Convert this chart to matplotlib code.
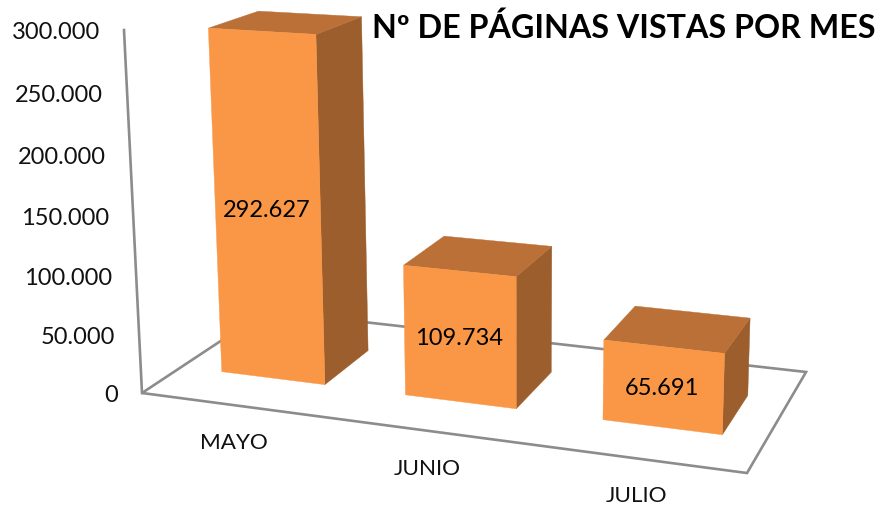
import numpy as np
import matplotlib
matplotlib.use("Agg")
import matplotlib.pyplot as plt
from matplotlib.patches import Polygon

# ---- data ----
months = ["MAYO", "JUNIO", "JULIO"]
page_views = [292627, 109734, 65691]
bar_labels = ["292.627", "109.734", "65.691"]
axis_ticks = [0, 50000, 100000, 150000, 200000, 250000, 300000]
axis_tick_labels = ["0", "50.000", "100.000", "150.000", "200.000", "250.000", "300.000"]
title = "Nº DE PÁGINAS VISTAS POR MES"

# ---- style / camera (floor homography + vertical vanishing point) ----
FRONT, TOP, SIDE = "#F99746", "#BA7036", "#9C5E2C"
AXIS = "#8C8C8C"
plt.rcParams["font.family"] = ["Lato", "DejaVu Sans"]

# homography coefficients of the floor plane, (u, v) in the unit square
a, b, c = 524.1, 159.2, 142.0
d, e, f = 28.8, -40.9, 393.0
g, h = -0.1083, 0.1322
VPX, VPY = 520.0, 8016.0          # vanishing point of the vertical direction
ALPHA = -0.04545 / 300000.0       # perspective change per unit of value


def project(u, v, z=0.0):
    k = ALPHA * z
    w = g * u + h * v + 1 + k
    return ((a * u + b * v + c + k * VPX) / w,
            (d * u + e * v + f + k * VPY) / w)


fig = plt.figure(figsize=(8.79, 5.08), dpi=100, facecolor="white")
ax = fig.add_axes([0, 0, 1, 1])
ax.set_xlim(0, 879)
ax.set_ylim(508, 0)
ax.axis("off")

# floor outline and value axis
floor = [project(*p) for p in [(0, 0), (1, 0), (1, 1), (0, 1)]]
ax.add_patch(Polygon(floor, closed=True, fill=False, edgecolor=AXIS, lw=1.9, zorder=1))
ax.plot(*zip(project(0, 0, 0), project(0, 0, axis_ticks[-1])), color=AXIS, lw=1.9, zorder=1)

# value-axis tick labels
for t, lab in zip(axis_ticks, axis_tick_labels):
    x, y = project(0, 0, t)
    ax.text(x - 24, y + 2.5, lab, ha="right", va="center", fontsize=17, color="#111111")

# bars
n = len(months)
BAR_W, V0, V1 = 0.19, 0.295, 0.69
U_SHIFT = 0.004
for i, (m, val, lab) in enumerate(zip(months, page_views, bar_labels)):
    uc = (i + 0.5) / n + U_SHIFT
    u0, u1 = uc - BAR_W / 2, uc + BAR_W / 2
    side = [project(u1, V0), project(u1, V1), project(u1, V1, val), project(u1, V0, val)]
    top = [project(u0, V0, val), project(u1, V0, val), project(u1, V1, val), project(u0, V1, val)]
    front = [project(u0, V0), project(u1, V0), project(u1, V0, val), project(u0, V0, val)]
    ax.add_patch(Polygon(side, closed=True, fc=SIDE, ec=SIDE, lw=0.3, zorder=3))
    ax.add_patch(Polygon(top, closed=True, fc=TOP, ec=TOP, lw=0.3, zorder=3))
    ax.add_patch(Polygon(front, closed=True, fc=FRONT, ec=FRONT, lw=0.3, zorder=4))
    x, y = project(uc, V0, val / 2)
    ax.text(x - 1, y + 1.5, lab, ha="center", va="center", fontsize=17, color="black", zorder=5)
    x, y = project((i + 0.5) / n, 0)
    ax.text(x, y + 38, m, ha="center", va="center", fontsize=16.2, color="#111111")

ax.text(624, 28, title, ha="center", va="center", fontsize=23.2, fontweight="bold",
        color="black", zorder=6)

fig.savefig("out.png", dpi=100, facecolor="white")
